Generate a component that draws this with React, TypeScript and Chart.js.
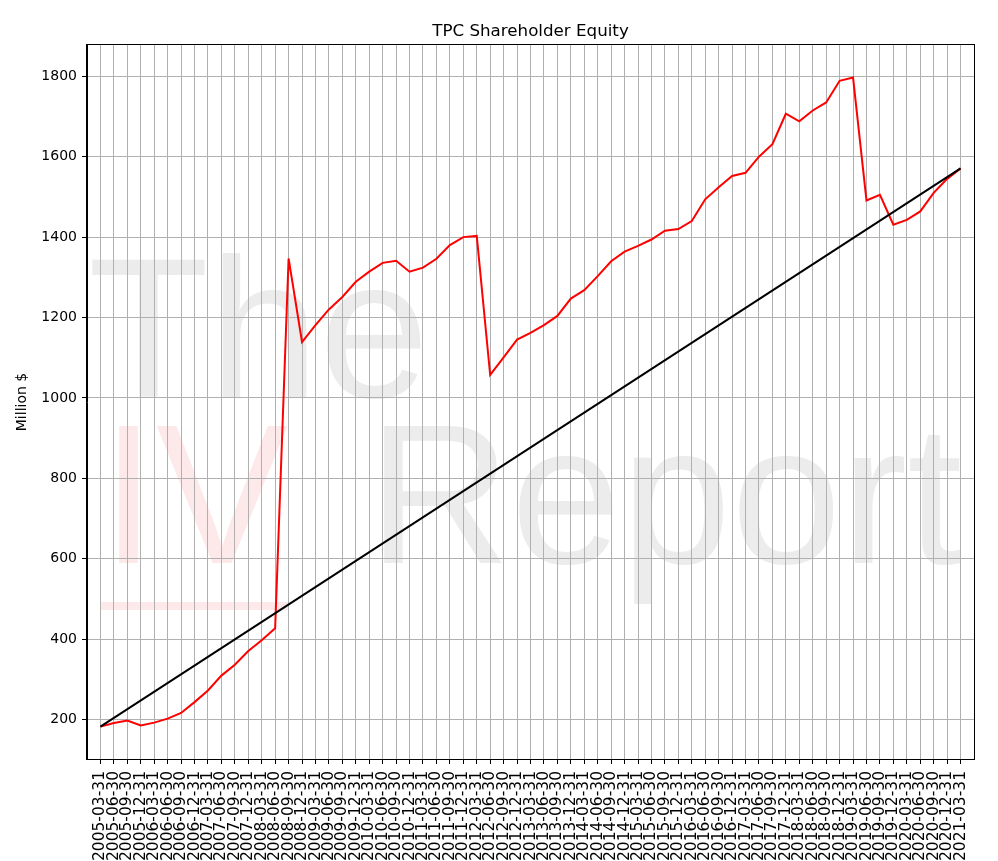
import React, { useEffect, useRef } from "react";
import { Chart, registerables } from "chart.js";

Chart.register(...registerables);

const dates = [
  "2005-03-31", "2005-06-30", "2005-09-30", "2005-12-31",
  "2006-03-31", "2006-06-30", "2006-09-30", "2006-12-31",
  "2007-03-31", "2007-06-30", "2007-09-30", "2007-12-31",
  "2008-03-31", "2008-06-30", "2008-09-30", "2008-12-31",
  "2009-03-31", "2009-06-30", "2009-09-30", "2009-12-31",
  "2010-03-31", "2010-06-30", "2010-09-30", "2010-12-31",
  "2011-03-31", "2011-06-30", "2011-09-30", "2011-12-31",
  "2012-03-31", "2012-06-30", "2012-09-30", "2012-12-31",
  "2013-03-31", "2013-06-30", "2013-09-30", "2013-12-31",
  "2014-03-31", "2014-06-30", "2014-09-30", "2014-12-31",
  "2015-03-31", "2015-06-30", "2015-09-30", "2015-12-31",
  "2016-03-31", "2016-06-30", "2016-09-30", "2016-12-31",
  "2017-03-31", "2017-06-30", "2017-09-30", "2017-12-31",
  "2018-03-31", "2018-06-30", "2018-09-30", "2018-12-31",
  "2019-03-31", "2019-06-30", "2019-09-30", "2019-12-31",
  "2020-03-31", "2020-06-30", "2020-09-30", "2020-12-31",
  "2021-03-31",
];

const equity = [
  182, 191, 197, 185, 192, 202, 216, 243, 272, 309, 336, 370, 397, 427,
  1347, 1139, 1181, 1220, 1251, 1289, 1314, 1336, 1341, 1314, 1324, 1346,
  1380, 1400, 1403, 1057, 1101, 1145, 1162, 1181, 1204, 1247, 1268, 1303,
  1340, 1364, 1378, 1394, 1416, 1420, 1440, 1494, 1524, 1552, 1560, 1600,
  1631, 1707, 1688, 1715, 1735, 1789, 1797, 1491, 1505, 1431, 1443, 1464,
  1510, 1545, 1571,
];

const trendStart = 182;
const trendEnd = 1571;

const yTicks = [200, 400, 600, 800, 1000, 1200, 1400, 1600, 1800];

const FONT = "'DejaVu Sans', sans-serif";
const WM_FONT = "'Liberation Sans', Arial, sans-serif";

export default function App() {
  const ref = useRef<HTMLCanvasElement>(null);

  useEffect(() => {
    if (!ref.current) return;

    const watermark = {
      id: "watermark",
      beforeDraw(chart: any) {
        const ctx = chart.ctx;
        ctx.save();
        ctx.font = `198px ${WM_FONT}`;
        ctx.textAlign = "left";
        ctx.textBaseline = "alphabetic";
        ctx.fillStyle = "#ececec";
        ctx.fillText("The", 88, 397);
        ctx.fillText("Report", 368, 563);
        ctx.fillStyle = "#fde9e9";
        ctx.fillText("IV", 101, 563);
        ctx.fillRect(101, 602, 187, 8);
        ctx.restore();
      },
    };

    const frame = {
      id: "frame",
      afterDraw(chart: any) {
        const { ctx, chartArea } = chart;
        ctx.save();
        ctx.strokeStyle = "#000";
        ctx.lineWidth = 1;
        ctx.strokeRect(
          chartArea.left - 0.5,
          chartArea.top - 0.5,
          chartArea.right - chartArea.left + 1,
          chartArea.bottom - chartArea.top + 1
        );
        ctx.fillStyle = "#000";
        ctx.font = `16.7px ${FONT}`;
        ctx.textAlign = "center";
        ctx.textBaseline = "alphabetic";
        ctx.fillText(
          "TPC Shareholder Equity",
          (chartArea.left + chartArea.right) / 2,
          36
        );
        ctx.restore();
      },
    };

    const chart = new Chart(ref.current, {
      type: "line",
      data: {
        datasets: [
          {
            label: "Equity",
            data: equity.map((v, i) => ({ x: i, y: v })),
            borderColor: "#ff0000",
            borderWidth: 2,
            pointRadius: 0,
            tension: 0,
            order: 2,
          },
          {
            label: "Trend",
            data: [
              { x: 0, y: trendStart },
              { x: dates.length - 1, y: trendEnd },
            ],
            borderColor: "#000000",
            borderWidth: 2,
            pointRadius: 0,
            tension: 0,
            order: 1,
          },
        ],
      },
      options: {
        responsive: false,
        animation: false,
        devicePixelRatio: 1,
        layout: { padding: { top: 45, right: 24, left: 0, bottom: 0 } },
        plugins: {
          legend: { display: false },
          title: { display: false },
          tooltip: { enabled: false },
        },
        scales: {
          x: {
            type: "linear",
            min: -1,
            max: dates.length,
            afterBuildTicks: (s: any) => {
              s.ticks = dates.map((_, i) => ({ value: i }));
            },
            afterFit: (s: any) => {
              s.height = 102;
            },
            ticks: {
              autoSkip: false,
              maxRotation: 90,
              minRotation: 90,
              padding: 7,
              color: "#000",
              font: { family: FONT, size: 15.5 },
              callback: (v: any) => dates[v] ?? "",
            },
            grid: {
              color: "#b0b0b0",
              lineWidth: 1,
              tickColor: "#000",
              tickLength: 5,
            },
            border: { color: "#000", width: 1 },
          },
          y: {
            type: "linear",
            min: 101.5,
            max: 1878,
            afterBuildTicks: (s: any) => {
              s.ticks = yTicks.map((v) => ({ value: v }));
            },
            afterFit: (s: any) => {
              s.width = 87;
            },
            ticks: {
              padding: 5,
              color: "#000",
              font: { family: FONT, size: 14 },
              callback: (v: any) => String(v),
            },
            grid: {
              color: "#b0b0b0",
              lineWidth: 1,
              tickColor: "#000",
              tickLength: 5,
            },
            border: { color: "#000", width: 1 },
            title: {
              display: true,
              text: "Million $",
              color: "#000",
              font: { family: FONT, size: 14 },
              padding: { top: 14, bottom: 0 },
            },
          },
        },
      },
      plugins: [watermark, frame],
    });

    return () => chart.destroy();
  }, []);

  return (
    <div style={{ position: "absolute", left: 0, top: 0, width: 998, height: 861, background: "#fff" }}>
      <canvas ref={ref} width={998} height={861} style={{ display: "block" }} />
    </div>
  );
}
